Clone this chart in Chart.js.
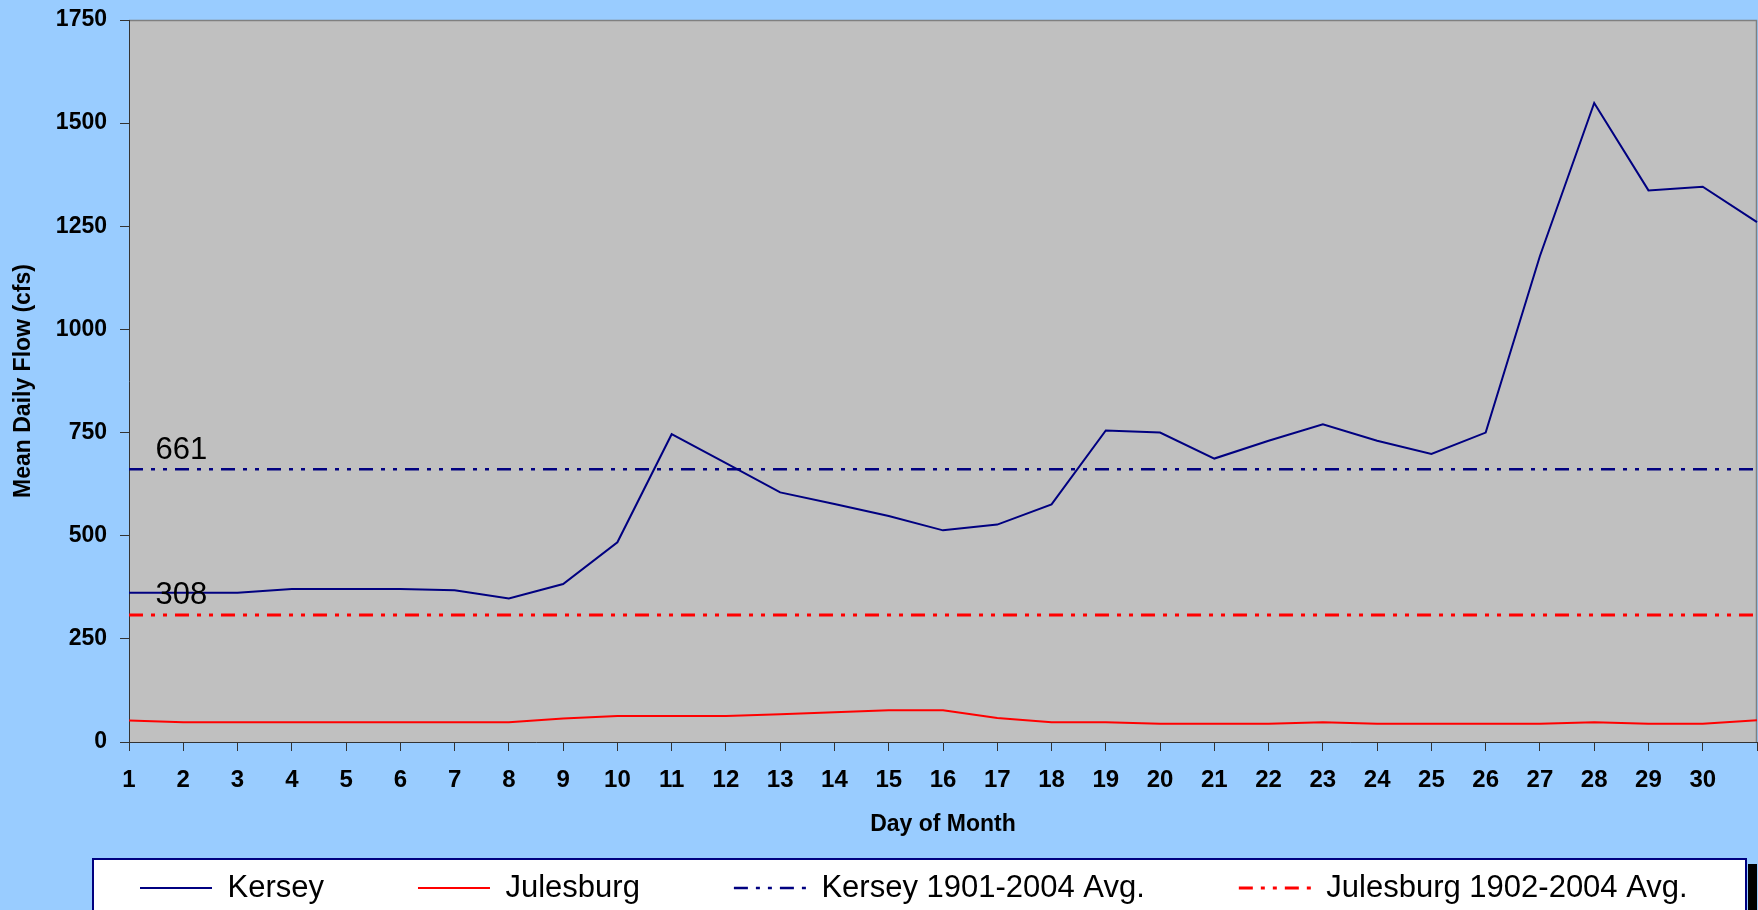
<!DOCTYPE html>
<html>
<head>
<meta charset="utf-8">
<title>Mean Daily Flow</title>
<script src="https://cdn.jsdelivr.net/npm/chart.js@4.4.1/dist/chart.umd.min.js"></script>
<style>
    html, body { margin: 0; padding: 0; background: #99ccff; }
    #wrap { width: 1758px; height: 910px; position: relative; }
</style>
</head>
<body>
<div id="wrap"><canvas id="flowChart"></canvas></div>
<script>
// day labels, the 31st tick carries no label
const days = ['1', '2', '3', '4', '5', '6', '7', '8', '9', '10', '11', '12', '13', '14', '15',
    '16', '17', '18', '19', '20', '21', '22', '23', '24', '25', '26', '27', '28', '29', '30', ''];
const flowTicks = [0, 250, 500, 750, 1000, 1250, 1500, 1750];

const kersey = [362, 362, 362, 371, 371, 371, 368, 348, 383, 484, 746, 676, 605, 577, 548, 513,
    527, 576, 755, 750, 687, 730, 770, 730, 698, 750, 1178, 1549, 1337, 1346, 1260];
const julesburg = [52, 48, 48, 48, 48, 48, 48, 48, 57, 63, 63, 63, 67, 72, 77, 77,
    58, 48, 48, 44, 44, 44, 48, 44, 44, 44, 44, 48, 44, 44, 53];
const kerseyAvg = [661, 661, 661, 661, 661, 661, 661, 661, 661, 661, 661, 661, 661, 661, 661, 661,
    661, 661, 661, 661, 661, 661, 661, 661, 661, 661, 661, 661, 661, 661, 661];
const julesburgAvg = [308, 308, 308, 308, 308, 308, 308, 308, 308, 308, 308, 308, 308, 308, 308, 308,
    308, 308, 308, 308, 308, 308, 308, 308, 308, 308, 308, 308, 308, 308, 308];

const FONT = 'Arial, "Liberation Sans", sans-serif';

// page colour, grey plot area and the white legend frame
const backdrop = {
    id: 'backdrop',
    beforeDraw(chart) {
        const { ctx, chartArea: a } = chart;
        ctx.save();
        ctx.fillStyle = '#99ccff';
        ctx.fillRect(0, 0, chart.width, chart.height);
        ctx.fillStyle = '#c0c0c0';
        ctx.fillRect(a.left, a.top, a.right - a.left, a.bottom - a.top);
        ctx.strokeStyle = '#808080';
        ctx.lineWidth = 1.5;
        ctx.beginPath();
        ctx.moveTo(a.left, a.top + 0.5);
        ctx.lineTo(a.right - 0.5, a.top + 0.5);
        ctx.lineTo(a.right - 0.5, a.bottom);
        ctx.stroke();

        ctx.fillStyle = '#000';
        ctx.fillRect(1748, 864, 9, 50);
        ctx.fillStyle = '#fff';
        ctx.fillRect(93, 859, 1653, 60);
        ctx.strokeStyle = '#000080';
        ctx.lineWidth = 2;
        ctx.strokeRect(93, 859, 1653, 60);
        ctx.restore();
    }
};

// legend padding doubles as vertical offset, pull the row back into the frame
const legendNudge = {
    id: 'legendNudge',
    afterLayout(chart) {
        const lg = chart.legend;
        const pad = 94, fs = 31;
        lg.top = 888 - fs / 2 - pad;
        const dx = 140 - pad - lg.left;
        lg.left += dx;
        lg.right += dx;
    }
};

// value labels over the average lines
const avgLabels = {
    id: 'avgLabels',
    afterDatasetsDraw(chart) {
        const ctx = chart.ctx;
        ctx.save();
        ctx.font = '31px ' + FONT;
        ctx.fillStyle = '#000';
        ctx.textAlign = 'center';
        ctx.textBaseline = 'middle';
        [2, 3].forEach(function (i) {
            const pt = chart.getDatasetMeta(i).data[1];
            const val = chart.data.datasets[i].data[1];
            ctx.fillText(String(val), pt.x - 2, pt.y - 19);
        });
        ctx.restore();
    }
};

const dashDotDot = [14, 8, 4, 8, 4, 8];

new Chart(document.getElementById('flowChart'), {
    type: 'line',
    data: {
        labels: days,
        datasets: [
            { label: 'Kersey', data: kersey, borderColor: '#000080', backgroundColor: '#000080', borderWidth: 2 },
            { label: 'Julesburg', data: julesburg, borderColor: '#ff0000', backgroundColor: '#ff0000', borderWidth: 2 },
            { label: 'Kersey 1901-2004 Avg.', data: kerseyAvg, borderColor: '#000080', backgroundColor: '#000080',
                borderWidth: 2.5, borderDash: dashDotDot },
            { label: 'Julesburg 1902-2004 Avg.', data: julesburgAvg, borderColor: '#ff0000', backgroundColor: '#ff0000',
                borderWidth: 3, borderDash: dashDotDot },
        ],
    },
    options: {
        responsive: true,
        maintainAspectRatio: false,
        animation: false,
        layout: { padding: { top: 20, right: 1, bottom: 0, left: 0 } },
        elements: {
            point: { radius: 0, hoverRadius: 0 },
            line: { tension: 0, fill: false, borderCapStyle: 'butt' },
        },
        plugins: {
            tooltip: { enabled: false },
            legend: {
                position: 'bottom',
                align: 'start',
                maxHeight: 52,
                labels: {
                    usePointStyle: true,
                    pointStyle: 'line',
                    pointStyleWidth: 72,
                    padding: 94,
                    color: '#000',
                    font: { family: FONT, size: 31 },
                    // point style drops the dash, take it from the dataset
                    generateLabels: function (chart) {
                        const items = Chart.defaults.plugins.legend.labels.generateLabels(chart);
                        items.forEach(function (item) {
                            const ds = chart.data.datasets[item.datasetIndex];
                            item.lineDash = ds.borderDash || [];
                            item.lineWidth = ds.borderWidth;
                            item.strokeStyle = ds.borderColor;
                        });
                        return items;
                    },
                },
            },
        },
        scales: {
            x: {
                offset: false,
                grid: { drawOnChartArea: false, drawTicks: true, tickLength: 9, tickColor: '#333' },
                border: { color: '#333', width: 1 },
                ticks: { autoSkip: false, maxRotation: 0, padding: 15, color: '#000',
                    font: { family: FONT, size: 24, weight: 'bold' } },
                title: { display: true, text: 'Day of Month', color: '#000',
                    font: { family: FONT, size: 23, weight: 'bold' }, padding: { top: 0, bottom: 20 } },
                afterFit: function (scale) {
                    scale.height = 116;
                    scale.paddingLeft = 0;
                    scale.paddingRight = 0;
                },
            },
            y: {
                min: flowTicks[0],
                max: flowTicks[flowTicks.length - 1],
                grid: { drawOnChartArea: false, drawTicks: true, tickLength: 9, tickColor: '#333' },
                border: { color: '#333', width: 1 },
                ticks: { stepSize: flowTicks[1] - flowTicks[0], padding: 13, color: '#000',
                    font: { family: FONT, size: 23, weight: 'bold' },
                    callback: function (value) { return String(value); } },
                title: { display: true, text: 'Mean Daily Flow (cfs)', color: '#000',
                    font: { family: FONT, size: 23, weight: 'bold' }, padding: { top: 10, bottom: 0 } },
                afterFit: function (scale) {
                    scale.width = 129;
                    scale.paddingTop = 0;
                    scale.paddingBottom = 0;
                },
            },
        },
    },
    plugins: [backdrop, legendNudge, avgLabels],
});
</script>
</body>
</html>
